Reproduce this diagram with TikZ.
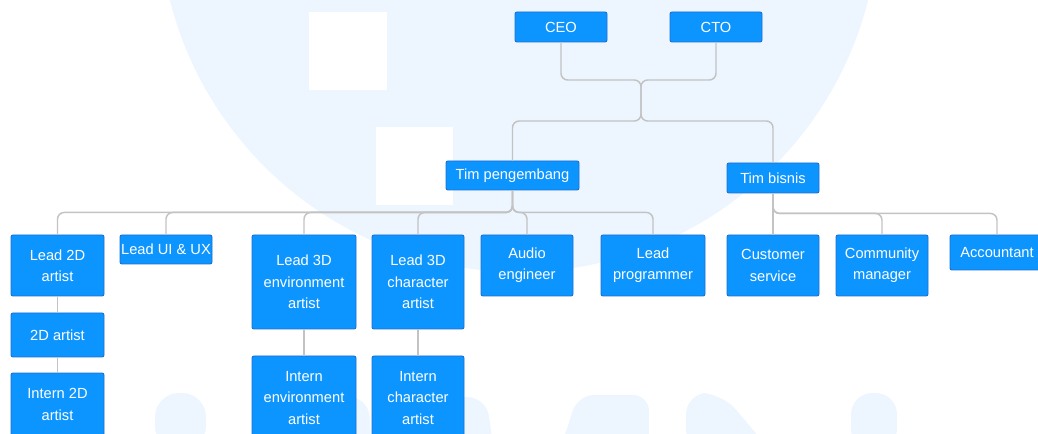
\documentclass[tikz,border=0pt]{standalone}
\usepackage{fontspec}
\setmainfont{Liberation Sans}
\usetikzlibrary{positioning}
\definecolor{boxblue}{HTML}{0C95FF}
\definecolor{boxline}{HTML}{1D6FD2}
\definecolor{linkgrey}{HTML}{C3C3C3}
\definecolor{wmblue}{HTML}{EDF6FE}
\begin{document}
\begin{tikzpicture}[x=0.75pt, y=-0.75pt,
  box/.style={draw=boxline, line width=0.7pt, fill=boxblue, rounded corners=1.5pt, text=white,
    align=center, inner sep=0pt, minimum width=69pt, font=\fontsize{11}{16}\selectfont},
  link/.style={draw=linkgrey, line width=1.1pt, rounded corners=5pt}]

  \useasboundingbox (0,0) rectangle (1038,434);
  \clip (0,0) rectangle (1038,434);

  % watermark
  \fill[wmblue] (519,-88) circle[radius=270pt];
  \fill[white] (309,12) rectangle (387,90);
  \fill[white] (376,127) rectangle (453,205);
  \fill[wmblue, rounded corners=18pt] (155,450) -- (155,393) -- (206,393) -- (206,450) -- cycle;
  \fill[wmblue, rounded corners=14pt] (320,450) -- (320,397) -- (368,397) -- (372,450) -- cycle;
  \fill[wmblue, rounded corners=14pt] (440,450) -- (440,397) -- (486,397) -- (494,450) -- cycle;
  \fill[wmblue, rounded corners=12pt] (560,450) -- (578,395) -- (649,395) -- (649,450) -- cycle;
  \fill[wmblue, rounded corners=16pt] (686,450) -- (686,393) -- (722,393) -- (770,450) -- cycle;
  \fill[wmblue, rounded corners=16pt] (851,450) -- (851,393) -- (897,393) -- (897,450) -- cycle;

  % top
  \node[box, minimum height=22.5pt] (ceo) at (561,27) {CEO};
  \node[box, minimum height=22.5pt] (cto) at (716,27) {CTO};

  % teams
  \node[box, minimum width=99.75pt, minimum height=21.75pt] (tp) at (512.5,175.5) {Tim pengembang};
  \node[box, minimum height=22.5pt] (tb) at (773,178) {Tim bisnis};

  % first row
  \node[box, minimum width=69.75pt, minimum height=45.75pt] (l2d) at (57.5,265.5) {Lead 2D\\artist};
  \node[box, minimum height=21.75pt] (lui) at (166,249.5) {Lead UI \& UX};
  \node[box, minimum width=78pt, minimum height=70.5pt] (l3e) at (304,282) {Lead 3D\\environment\\artist};
  \node[box, minimum height=70.5pt] (l3c) at (418,282) {Lead 3D\\character\\artist};
  \node[box, minimum height=45.75pt] (aud) at (527,265.5) {Audio\\engineer};
  \node[box, minimum width=78pt, minimum height=45.75pt] (lpg) at (653,265.5) {Lead\\programmer};
  \node[box, minimum height=45.75pt] (cs) at (773,265.5) {Customer\\service};
  \node[box, minimum height=45.75pt] (cm) at (882,265.5) {Community\\manager};
  \node[box, minimum width=70.5pt, minimum height=26.25pt] (acc) at (997,252.5) {Accountant};

  % lower rows
  \node[box, minimum width=69.75pt, minimum height=33pt] (a2d) at (57.5,335) {2D artist};
  \node[box, minimum width=69.75pt, minimum height=47.25pt] (i2d) at (57.5,404.5) {Intern 2D\\artist};
  \node[box, minimum width=78pt, minimum height=63pt] (ien) at (304,398) {Intern\\environment\\artist};
  \node[box, minimum height=63pt] (ich) at (418,398) {Intern\\character\\artist};

  % ghost nodes
  \coordinate (j1) at (641,80);
  \coordinate (j2) at (641,121);

  % links
  \draw[link] (ceo.south) |- (j1) -- (j2) -| (tp.north);
  \draw[link] (cto.south) |- (j1) -- (j2) -| (tb.north);
  \foreach \c in {l2d,lui,l3e,l3c,aud,lpg}
    \draw[link] (tp.south) -- ++(0,22) -| (\c.north);
  \foreach \c in {cs,cm,acc}
    \draw[link] (tb.south) -- ++(0,20) -| (\c.north);
  \draw[link] (l2d.south) -- (a2d.north);
  \draw[link] (a2d.south) -- (i2d.north);
  \draw[link] (l3e.south) -- (ien.north);
  \draw[link] (l3c.south) -- (ich.north);

\end{tikzpicture}
\end{document}
